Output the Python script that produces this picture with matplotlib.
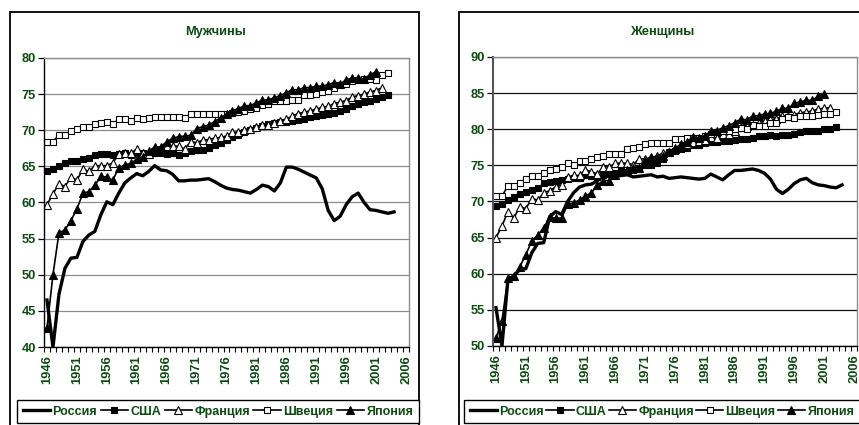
import numpy as np
import matplotlib
matplotlib.use("Agg")
import matplotlib.pyplot as plt
from matplotlib.patches import Rectangle

plt.rcParams['font.family'] = ['Liberation Sans', 'DejaVu Sans']

W, H = 859, 425
GREEN = '#0e4a12'

# ---------------- data ----------------
series_names = ['Россия', 'США', 'Франция', 'Швеция', 'Япония']
tick_years = [1946, 1951, 1956, 1961, 1966, 1971, 1976, 1981, 1986, 1991, 1996, 2001, 2006]

# Men
m_russia_years = list(range(1946, 2005))
m_russia = [46.5, 40.0, 47.3, 50.9, 52.3, 52.4, 54.6, 55.5, 56.0, 58.3,
            60.1, 59.7, 61.3, 62.7, 63.4, 64.0, 63.7, 64.3, 65.1, 64.5,
            64.4, 63.9, 63.0, 63.0, 63.1, 63.1, 63.2, 63.3, 62.9, 62.4,
            62.0, 61.8, 61.7, 61.5, 61.3, 61.8, 62.4, 62.2, 61.6, 62.7,
            64.9, 64.9, 64.6, 64.2, 63.8, 63.4, 61.9, 58.9, 57.5, 58.1,
            59.7, 60.8, 61.3, 60.0, 59.0, 58.9, 58.7, 58.5, 58.7]
m_usa_years = list(range(1946, 2004))
m_usa = [64.4, 64.6, 65.1, 65.5, 65.7, 65.8, 66.0, 66.1, 66.6, 66.7,
         66.7, 66.6, 66.7, 66.8, 66.6, 66.9, 66.8, 66.6, 66.8, 66.8,
         66.7, 66.9, 66.6, 66.8, 67.1, 67.3, 67.3, 67.5, 67.9, 68.3,
         68.6, 69.0, 69.3, 69.7, 70.0, 70.3, 70.6, 70.8, 71.0, 71.1,
         71.2, 71.3, 71.4, 71.6, 71.8, 72.0, 72.1, 72.2, 72.4, 72.6,
         73.0, 73.4, 73.7, 73.9, 74.1, 74.3, 74.6, 74.9]
m_france_years = list(range(1946, 2003))
m_france = [59.7, 61.2, 62.6, 62.2, 63.5, 63.1, 64.6, 64.3, 65.1, 65.1,
            65.1, 65.5, 66.7, 66.8, 66.8, 67.4, 66.9, 66.7, 67.6, 67.5,
            67.8, 67.8, 67.8, 67.4, 68.4, 68.3, 68.6, 68.7, 68.9, 69.0,
            69.2, 69.7, 69.8, 70.1, 70.2, 70.4, 70.7, 70.7, 71.0, 71.3,
            71.5, 72.0, 72.3, 72.5, 72.7, 72.9, 73.2, 73.3, 73.7, 73.9,
            74.1, 74.6, 74.8, 75.0, 75.3, 75.5, 75.9]
m_sweden_years = list(range(1946, 2004))
m_sweden = [68.4, 68.4, 69.4, 69.4, 69.9, 70.2, 70.4, 70.4, 70.9, 71.0,
            71.1, 70.8, 71.6, 71.6, 71.3, 71.7, 71.5, 71.7, 71.8, 71.8,
            71.9, 71.9, 71.8, 71.7, 72.3, 72.2, 72.2, 72.3, 72.2, 72.3,
            72.2, 72.4, 72.5, 72.6, 72.9, 73.1, 73.5, 73.7, 74.0, 74.1,
            74.1, 74.2, 74.2, 74.9, 74.9, 75.0, 75.3, 75.5, 75.9, 76.3,
            76.4, 76.8, 76.9, 77.1, 77.1, 77.0, 77.7, 77.9]
m_japan_years = list(range(1946, 2002))
m_japan = [42.6, 50.0, 55.8, 56.2, 57.5, 59.1, 61.3, 61.5, 62.4, 63.6,
           63.5, 63.1, 64.8, 65.2, 65.4, 66.0, 66.3, 67.1, 67.7, 67.7,
           68.4, 68.9, 69.1, 69.2, 69.3, 70.2, 70.5, 70.7, 71.2, 71.7,
           72.2, 72.7, 73.0, 73.4, 73.4, 73.8, 74.2, 74.2, 74.5, 74.8,
           75.2, 75.6, 75.6, 75.9, 75.9, 76.1, 76.1, 76.3, 76.6, 76.4,
           77.0, 77.2, 77.2, 77.1, 77.7, 78.1]

# Women
w_russia_years = list(range(1946, 2005))
w_russia = [55.3, 50.0, 59.2, 59.7, 60.6, 60.7, 62.9, 64.2, 64.3, 67.9,
            68.6, 68.2, 70.0, 71.2, 72.0, 72.3, 72.4, 72.9, 73.5, 73.5,
            73.5, 73.6, 73.7, 73.4, 73.5, 73.6, 73.7, 73.4, 73.5, 73.2,
            73.3, 73.4, 73.3, 73.2, 73.1, 73.2, 73.8, 73.4, 73.0, 73.7,
            74.3, 74.3, 74.4, 74.5, 74.3, 73.9, 73.1, 71.7, 71.1, 71.7,
            72.5, 73.0, 73.2, 72.6, 72.3, 72.2, 72.0, 71.9, 72.3]
w_usa_years = list(range(1946, 2004))
w_usa = [69.4, 69.7, 70.2, 70.6, 71.0, 71.3, 71.6, 71.9, 72.5, 72.7,
         72.9, 73.0, 73.1, 73.2, 73.3, 73.6, 73.5, 73.4, 73.7, 73.8,
         73.9, 74.2, 74.1, 74.4, 74.7, 75.0, 75.1, 75.3, 75.9, 76.8,
         77.0, 77.3, 77.4, 77.8, 77.8, 78.1, 78.3, 78.3, 78.4, 78.4,
         78.5, 78.6, 78.6, 78.8, 79.0, 79.1, 79.2, 79.0, 79.2, 79.2,
         79.4, 79.6, 79.7, 79.7, 79.8, 80.0, 80.1, 80.3]
w_france_years = list(range(1946, 2003))
w_france = [65.0, 66.6, 68.6, 67.7, 69.3, 69.0, 70.4, 70.2, 71.2, 71.5,
            72.0, 72.3, 73.4, 73.6, 73.6, 74.4, 74.1, 73.8, 74.8, 74.8,
            75.3, 75.3, 75.3, 75.1, 75.9, 75.9, 76.1, 76.3, 76.7, 76.9,
            77.2, 77.8, 78.0, 78.3, 78.4, 78.5, 78.9, 78.8, 79.3, 79.4,
            79.7, 80.3, 80.5, 80.6, 80.9, 81.1, 81.4, 81.4, 81.8, 81.9,
            82.0, 82.3, 82.4, 82.5, 82.8, 82.9, 83.0]
w_sweden_years = list(range(1946, 2004))
w_sweden = [70.7, 70.7, 72.2, 72.2, 72.6, 73.1, 73.5, 73.5, 74.0, 74.3,
            74.5, 74.8, 75.3, 75.0, 75.6, 75.6, 75.9, 76.1, 76.3, 76.6,
            76.6, 76.6, 77.3, 77.4, 77.5, 77.9, 78.1, 78.1, 78.1, 78.1,
            78.6, 78.7, 78.8, 78.8, 78.8, 79.1, 79.4, 79.6, 79.8, 79.7,
            80.1, 80.2, 80.0, 80.6, 80.4, 80.5, 80.8, 80.8, 81.4, 81.7,
            81.5, 81.8, 81.9, 81.9, 82.0, 82.1, 82.1, 82.4]
w_japan_years = list(range(1946, 2002))
w_japan = [51.1, 53.5, 59.4, 59.7, 61.0, 62.6, 64.6, 65.3, 66.4, 67.8,
           67.7, 67.7, 69.6, 69.8, 70.2, 70.8, 71.2, 72.3, 72.9, 72.9,
           73.6, 74.2, 74.3, 74.7, 74.7, 75.6, 76.0, 76.0, 76.3, 76.9,
           77.4, 77.9, 78.3, 78.9, 78.8, 79.1, 79.7, 79.8, 80.2, 80.5,
           80.9, 81.4, 81.3, 81.8, 81.9, 82.1, 82.2, 82.5, 82.9, 82.9,
           83.6, 83.8, 84.0, 84.0, 84.6, 84.9]

men = [(m_russia_years, m_russia), (m_usa_years, m_usa), (m_france_years, m_france),
       (m_sweden_years, m_sweden), (m_japan_years, m_japan)]
women = [(w_russia_years, w_russia), (w_usa_years, w_usa), (w_france_years, w_france),
         (w_sweden_years, w_sweden), (w_japan_years, w_japan)]

styles = [
    dict(color='black', lw=2.4, marker=None),
    dict(color='black', lw=1.2, marker='s', mfc='black', mec='black', ms=4.6),
    dict(color='black', lw=1.2, marker='^', mfc='white', mec='black', ms=5.2, mew=0.8),
    dict(color='black', lw=1.2, marker='s', mfc='white', mec='black', ms=5.0, mew=0.8),
    dict(color='black', lw=1.2, marker='^', mfc='black', mec='black', ms=5.2),
]

fig = plt.figure(figsize=(W / 100, H / 100), dpi=100)
fig.patch.set_facecolor('white')


def px_axes(x0, y0, x1, y1):
    return fig.add_axes([x0 / W, 1 - y1 / H, (x1 - x0) / W, (y1 - y0) / H])


def style_axes(ax, ylo, yhi, grid_color, left_spine_color, left_lw):
    ax.set_xlim(1945.5, 2006.5)
    ax.set_ylim(ylo, yhi)
    ax.set_yticks(np.arange(ylo, yhi + 1, 5))
    ax.yaxis.grid(True, color=grid_color, lw=0.9)
    ax.set_axisbelow(True)
    ax.set_xticks(tick_years)
    ax.set_xticklabels([str(y) for y in tick_years], rotation=90)
    ax.set_xticks(np.arange(1945.5, 2007, 1.0), minor=True)
    ax.tick_params(axis='x', which='major', length=0, pad=6)
    ax.tick_params(axis='x', which='minor', length=3.5, width=0.8, color='black', direction='out')
    ax.tick_params(axis='y', length=4, width=0.9, color='black', pad=2)
    for lab in ax.get_xticklabels() + ax.get_yticklabels():
        lab.set_fontweight('bold')
        lab.set_color(GREEN)
        lab.set_fontsize(9.3)
    ax.spines['left'].set_color(left_spine_color)
    ax.spines['left'].set_linewidth(left_lw)
    ax.spines['bottom'].set_color('black')
    ax.spines['bottom'].set_linewidth(1.0)
    for s in ('top', 'right'):
        ax.spines[s].set_color('#8c8c8c')
        ax.spines[s].set_linewidth(1.0)


def draw(ax, data):
    handles = []
    for (yrs, vals), st, name in zip(data, styles, series_names):
        kw = dict(color=st['color'], lw=st['lw'], solid_joinstyle='round')
        if st['marker']:
            kw.update(marker=st['marker'], mfc=st['mfc'], mec=st['mec'], ms=st['ms'],
                      mew=st.get('mew', 0.8))
        h, = ax.plot(yrs, vals, label=name, **kw)
        handles.append(h)
    return handles


def add_legend(handles, x0, y0, colsp=0.28):
    leg = fig.legend(handles, series_names, ncol=5, loc='upper left',
                     bbox_to_anchor=(x0 / W, 1 - y0 / H),
                     frameon=True, fancybox=False, edgecolor='black', framealpha=1,
                     borderpad=0.45, handlelength=2.2, handletextpad=0.18,
                     columnspacing=colsp, borderaxespad=0,
                     prop=dict(weight='bold', size=9), labelcolor=GREEN)
    leg.get_frame().set_linewidth(1.0)
    return leg


# Outer chart frames
fig.patches.append(Rectangle((10 / W, -0.05), 409 / W, 1 - 12 / H + 0.05, fill=False,
                             ec='black', lw=1.3, transform=fig.transFigure))
fig.patches.append(Rectangle((459 / W, -0.05), 410 / W, 1 - 12 / H + 0.05, fill=False,
                             ec='black', lw=1.3, transform=fig.transFigure))

# Men
ax1 = px_axes(44, 58, 409, 347)
style_axes(ax1, 40, 80, '#8c8c8c', 'black', 1.0)
h1 = draw(ax1, men)
fig.text(216 / W, 1 - 32 / H, 'Мужчины', ha='center', va='center',
         fontsize=9.3, fontweight='bold', color=GREEN)
add_legend(h1, 17, 400)

# Women
ax2 = px_axes(493, 57, 857, 346)
style_axes(ax2, 50, 90, '#111111', '#555555', 1.5)
h2 = draw(ax2, women)
fig.text(663 / W, 1 - 32 / H, 'Женщины', ha='center', va='center',
         fontsize=9.3, fontweight='bold', color=GREEN)
add_legend(h2, 464, 400, colsp=0.16)

fig.savefig('out.png', dpi=100, facecolor='white')
